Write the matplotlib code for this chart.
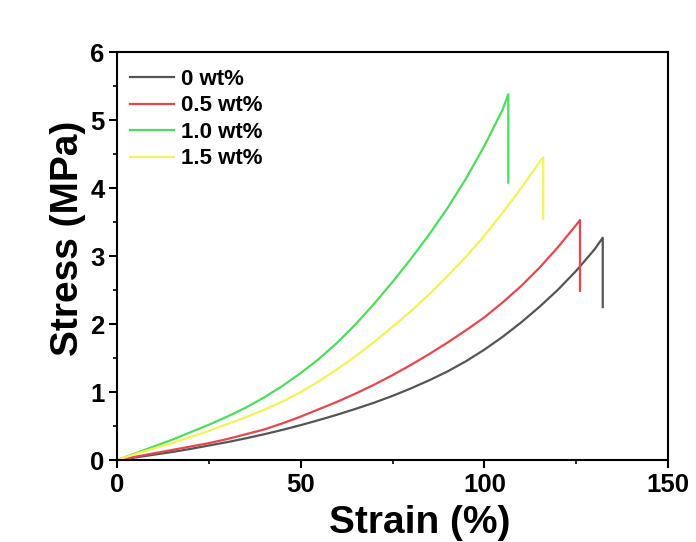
import matplotlib.pyplot as plt
from matplotlib.ticker import MultipleLocator

# 인장 곡선 데이터
labels = ["0 wt%", "0.5 wt%", "1.0 wt%", "1.5 wt%"]
colors = ["#555555", "#e4474d", "#4fdc5e", "#f2f25a"]

strain_0 = [0, 5, 10, 15, 20, 25, 30, 35, 40, 45, 50, 55, 60, 65, 70, 75, 80, 85,
            90, 95, 100, 105, 110, 115, 120, 125, 130, 132.2, 132.2]
stress_0 = [0, 0.04, 0.08, 0.12, 0.165, 0.215, 0.265, 0.32, 0.38, 0.445, 0.515, 0.59,
            0.67, 0.755, 0.845, 0.945, 1.055, 1.175, 1.305, 1.455, 1.625, 1.815, 2.025,
            2.255, 2.505, 2.785, 3.10, 3.27, 2.25]

strain_05 = [0, 5, 10, 15, 20, 25, 30, 35, 40, 45, 50, 55, 60, 65, 70, 75, 80, 85,
             90, 95, 100, 105, 110, 115, 120, 125, 126, 126]
stress_05 = [0, 0.05, 0.10, 0.15, 0.20, 0.25, 0.31, 0.38, 0.45, 0.54, 0.64, 0.75, 0.86,
             0.98, 1.11, 1.25, 1.40, 1.56, 1.73, 1.91, 2.10, 2.32, 2.56, 2.83, 3.13,
             3.46, 3.53, 2.49]

strain_10 = [0, 5, 10, 15, 20, 25, 30, 35, 40, 45, 50, 55, 60, 65, 70, 75, 80, 85,
             90, 95, 100, 105, 106.5, 106.5]
stress_10 = [0, 0.10, 0.20, 0.30, 0.41, 0.52, 0.64, 0.77, 0.92, 1.09, 1.28, 1.49, 1.73,
             2.00, 2.30, 2.62, 2.96, 3.32, 3.71, 4.14, 4.62, 5.16, 5.38, 4.08]

strain_15 = [0, 5, 10, 15, 20, 25, 30, 35, 40, 45, 50, 55, 60, 65, 70, 75, 80, 85,
             90, 95, 100, 105, 110, 115, 116, 116]
stress_15 = [0, 0.09, 0.17, 0.25, 0.34, 0.43, 0.53, 0.63, 0.74, 0.86, 1.00, 1.16, 1.34,
             1.53, 1.74, 1.96, 2.19, 2.44, 2.71, 2.99, 3.30, 3.64, 4.00, 4.38, 4.45, 3.55]

strains = [strain_0, strain_05, strain_10, strain_15]
stresses = [stress_0, stress_05, stress_10, stress_15]

plt.rcParams['font.family'] = ['Liberation Sans', 'DejaVu Sans']
plt.rcParams['font.weight'] = 'bold'

fig = plt.figure(figsize=(6.96, 5.42), dpi=100)
ax = fig.add_axes([0.168, 0.151, 0.792, 0.753])

for x, y, c, lab in zip(strains, stresses, colors, labels):
    ax.plot(x, y, color=c, lw=1.6, label=lab)

ax.set_xlim(0, 150)
ax.set_ylim(0, 6)
ax.xaxis.set_major_locator(MultipleLocator(50))
ax.xaxis.set_minor_locator(MultipleLocator(25))
ax.yaxis.set_major_locator(MultipleLocator(1))
ax.yaxis.set_minor_locator(MultipleLocator(0.5))

ax.tick_params(which='major', direction='out', length=6, width=1.5, labelsize=18.5, pad=3)
ax.tick_params(which='minor', direction='out', length=3, width=1.2)
for lab in ax.get_xticklabels() + ax.get_yticklabels():
    lab.set_fontweight('bold')
for s in ax.spines.values():
    s.set_linewidth(1.5)

ax.set_xlabel("Strain (%)", fontsize=28, fontweight='bold')
ax.set_ylabel("Stress (MPa)", fontsize=28, fontweight='bold')
ax.xaxis.set_label_coords(0.55, -0.11, transform=ax.transAxes)
ax.yaxis.set_label_coords(-0.057, 0.544, transform=ax.transAxes)

ax.legend(loc='upper left', frameon=False, prop={'size': 16, 'weight': 'bold'},
          handlelength=2.0, handletextpad=0.3, labelspacing=0.25,
          borderaxespad=0.3, bbox_to_anchor=(-0.005, 0.997))

fig.savefig("out.png", dpi=100)
